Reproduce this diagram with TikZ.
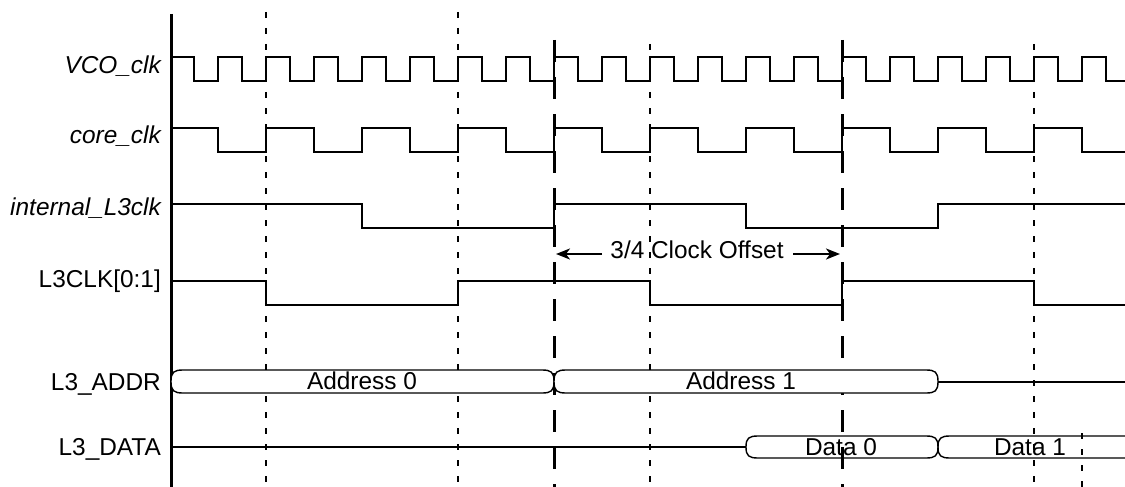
\documentclass[tikz,border=0pt]{standalone}
\usepackage{fontspec}
\setmainfont{Liberation Sans}
\usetikzlibrary{arrows.meta}
\begin{document}
\begin{tikzpicture}[x=1pt,y=-1pt,
  sig/.style={line width=2pt,line cap=butt,line join=miter},
  axisline/.style={line width=3pt},
  thindash/.style={line width=2pt,dash pattern=on 6pt off 10pt},
  thickdash/.style={line width=3pt,dash pattern=on 22pt off 15pt},
  busline/.style={line width=1.4pt},
  lbl/.style={anchor=base east,inner sep=0pt,font=\fontsize{24.4}{28}\selectfont},
  buslbl/.style={anchor=base,inner sep=0pt,font=\fontsize{24.4}{28}\selectfont},
  offarrow/.style={line width=2pt,-{Stealth[length=14pt,width=11pt,inset=4pt]}}]
\useasboundingbox (0,0) rectangle (1125,487);
% grid lines
\draw[thindash] (266,12) -- (266,487);
\draw[thindash] (458,12) -- (458,487);
\draw[thindash] (650,44) -- (650,487);
\draw[thindash] (1034,44) -- (1034,487);
\draw[thindash] (1082,433) -- (1082,487);
\draw[thickdash] (554,40) -- (554,487);
\draw[thickdash] (842,40) -- (842,487);
\draw[axisline] (171,14) -- (171,487);
% labels
\node[lbl] (lvco) at (161,74) {\itshape VCO\_clk};
\node[lbl] (lcore) at (161,143) {\itshape core\_clk};
\node[lbl] (lint) at (161,215) {\itshape internal\_L3clk};
\node[lbl] (lclk) at (161,287) {L3CLK[0:1]};
\node[lbl] (laddr) at (161,390) {L3\_ADDR};
\node[lbl] (ldata) at (161,455) {L3\_DATA};
% VCO_clk
\draw[sig] (171,57)
  \foreach \k in {0,...,18} { -- ({170+48*\k+24},57) -- ({170+48*\k+24},81) -- ({170+48*\k+48},81) -- ({170+48*\k+48},57) }
  -- (1106,57) -- (1106,81) -- (1125,81);
% core_clk
\draw[sig] (171,128)
  \foreach \k in {0,...,8} { -- ({170+96*\k+48},128) -- ({170+96*\k+48},152) -- ({170+96*\k+96},152) -- ({170+96*\k+96},128) }
  -- (1082,128) -- (1082,152) -- (1125,152);
% internal_L3clk
\draw[sig] (171,204) -- (362,204) -- (362,228) -- (554,228) -- (554,204) -- (746,204) -- (746,228) -- (938,228) -- (938,204) -- (1125,204);
% L3CLK[0:1]
\draw[sig] (171,281) -- (266,281) -- (266,305) -- (458,305) -- (458,281) -- (650,281) -- (650,305) -- (842,305) -- (842,281) -- (1034,281) -- (1034,305) -- (1125,305);
% offset arrows
\node[buslbl] (offtxt) at (697,258) {3/4 Clock Offset};
\coordinate (offLs) at (602,254);
\coordinate (offLe) at (556,254);
\coordinate (offRs) at (793,254);
\coordinate (offRe) at (840,254);
\draw[offarrow] (offLs) -- (offLe);
\draw[offarrow] (offRs) -- (offRe);
% L3_ADDR
\draw[busline,fill=white] (171,381.5) .. controls (171,372) and (174,370) .. (183,370) -- (542,370) .. controls (551,370) and (554,372) .. (554,381.5) .. controls (554,391) and (551,393) .. (542,393) -- (183,393) .. controls (174,393) and (171,391) .. (171,381.5) -- cycle;
\draw[busline,fill=white] (554,381.5) .. controls (554,372) and (557,370) .. (566,370) -- (926,370) .. controls (935,370) and (938,372) .. (938,381.5) .. controls (938,391) and (935,393) .. (926,393) -- (566,393) .. controls (557,393) and (554,391) .. (554,381.5) -- cycle;
\draw[sig] (938,381.5) -- (1125,381.5);
\node[buslbl] (a0) at (362,389) {Address 0};
\node[buslbl] (a1) at (741,389) {Address 1};
% L3_DATA
\draw[sig] (171,447) -- (746,447);
\draw[busline] (746,447) .. controls (746,438) and (749,436) .. (758,436) -- (926,436) .. controls (935,436) and (938,438) .. (938,447) .. controls (938,456) and (935,458) .. (926,458) -- (758,458) .. controls (749,458) and (746,456) .. (746,447) -- cycle;
\draw[busline] (1125,436) -- (950,436) .. controls (941,436) and (938,438) .. (938,447) .. controls (938,456) and (941,458) .. (950,458) -- (1125,458);
\node[buslbl] (d0) at (841,455) {Data 0};
\node[buslbl] (d1) at (1030,455) {Data 1};
\end{tikzpicture}
\end{document}
